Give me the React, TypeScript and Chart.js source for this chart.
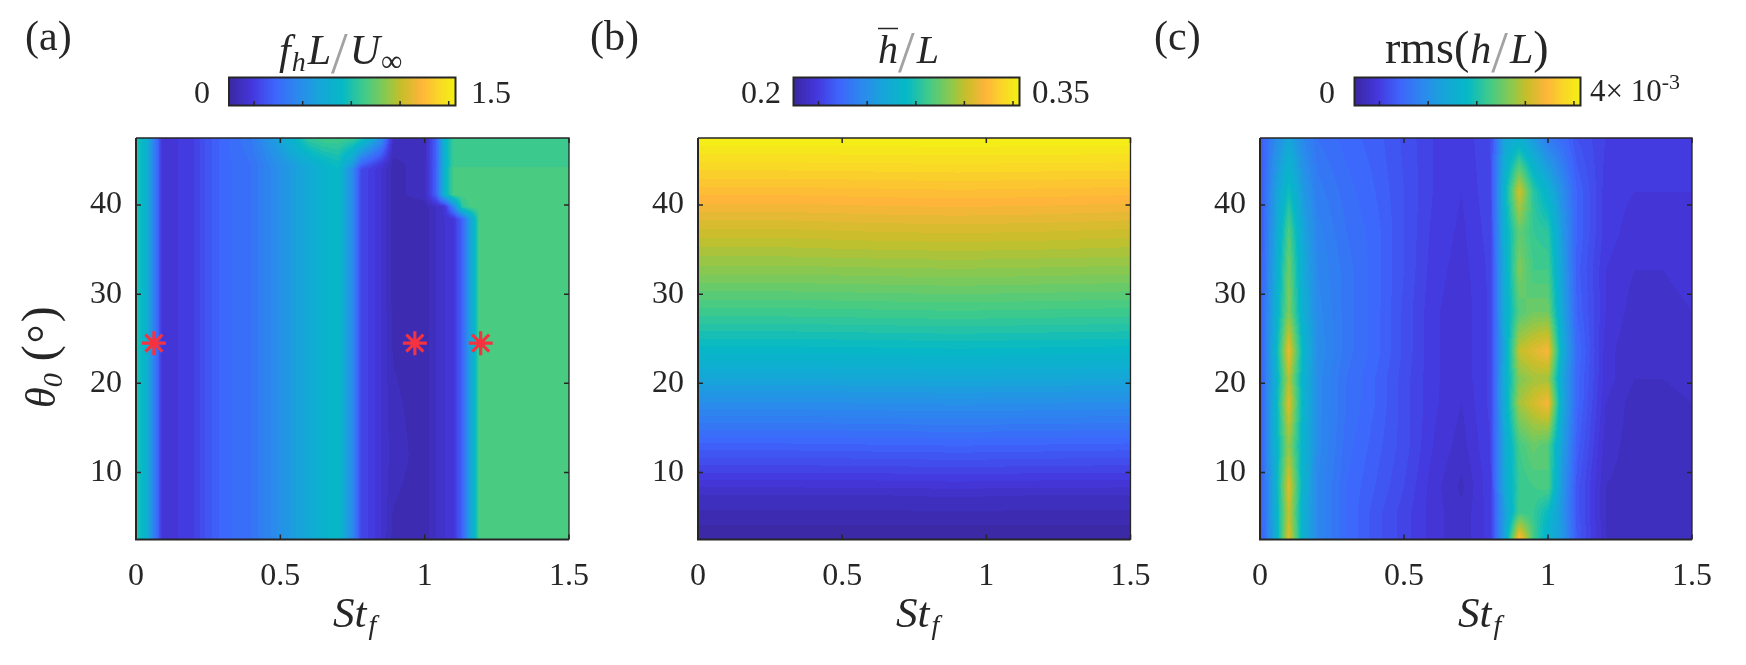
import { useEffect, useRef } from "react";
import { Chart, registerables } from "chart.js";

Chart.register(...registerables);

const SERIF = '"Liberation Serif", serif';
const INK = "#262626";

// St_f ticks and theta ticks shared by the panels
const stTicks = [0, 0.5, 1, 1.5];
const thetaTicks = [10, 20, 30, 40];

// (a) f_h L / U_inf
const stA = [0, 0.03, 0.06, 0.09, 0.12, 0.2, 0.25, 0.3, 0.4, 0.5, 0.6, 0.65, 0.7, 0.75, 0.78, 0.85, 0.89, 1, 1.04, 1.07, 1.1, 1.13, 1.16, 1.19, 1.3, 1.5];
const thetaA = [2.5, 12, 22, 30, 38.4, 39.8, 41.2, 44, 44.5, 47.5];
const valuesA = [
  [0.84, 0.72, 0.45, 0.15, 0.135, 0.18, 0.255, 0.315, 0.36, 0.495, 0.63, 0.705, 0.75, 0.45, 0.21, 0.12, 0.05, 0.045, 0.09, 0.12, 0.135, 0.3, 0.6, 0.915, 0.915, 0.915],
  [0.84, 0.72, 0.45, 0.15, 0.135, 0.18, 0.255, 0.315, 0.36, 0.495, 0.63, 0.705, 0.75, 0.45, 0.21, 0.12, 0.075, 0.045, 0.09, 0.12, 0.135, 0.3, 0.6, 0.915, 0.915, 0.915],
  [0.84, 0.72, 0.45, 0.15, 0.135, 0.18, 0.255, 0.315, 0.36, 0.495, 0.63, 0.705, 0.75, 0.45, 0.21, 0.12, 0.06, 0.045, 0.09, 0.12, 0.135, 0.3, 0.6, 0.915, 0.915, 0.915],
  [0.84, 0.72, 0.45, 0.15, 0.135, 0.18, 0.255, 0.315, 0.36, 0.495, 0.63, 0.705, 0.75, 0.45, 0.21, 0.12, 0.05, 0.045, 0.09, 0.12, 0.135, 0.3, 0.6, 0.915, 0.915, 0.915],
  [0.84, 0.72, 0.45, 0.15, 0.135, 0.18, 0.255, 0.315, 0.36, 0.495, 0.63, 0.705, 0.75, 0.45, 0.21, 0.12, 0.05, 0.045, 0.09, 0.12, 0.135, 0.3, 0.6, 0.915, 0.915, 0.915],
  [0.84, 0.72, 0.45, 0.15, 0.135, 0.18, 0.255, 0.315, 0.36, 0.495, 0.63, 0.705, 0.75, 0.45, 0.21, 0.12, 0.05, 0.045, 0.09, 0.135, 0.45, 0.85, 0.915, 0.915, 0.915, 0.915],
  [0.84, 0.72, 0.45, 0.15, 0.135, 0.18, 0.255, 0.315, 0.36, 0.495, 0.63, 0.705, 0.75, 0.45, 0.21, 0.12, 0.05, 0.075, 0.3, 0.72, 0.915, 0.915, 0.915, 0.915, 0.915, 0.915],
  [0.84, 0.72, 0.45, 0.15, 0.135, 0.18, 0.255, 0.315, 0.36, 0.495, 0.63, 0.705, 0.75, 0.45, 0.21, 0.12, 0.05, 0.075, 0.3, 0.72, 0.915, 0.915, 0.915, 0.915, 0.915, 0.915],
  [0.84, 0.72, 0.45, 0.15, 0.135, 0.18, 0.255, 0.315, 0.36, 0.5, 0.64, 0.72, 0.76, 0.55, 0.3, 0.14, 0.05, 0.075, 0.3, 0.7, 0.885, 0.885, 0.885, 0.885, 0.885, 0.885],
  [0.84, 0.72, 0.45, 0.15, 0.135, 0.18, 0.255, 0.315, 0.39, 0.6, 0.87, 0.9, 0.9, 0.88, 0.82, 0.5, 0.09, 0.06, 0.3, 0.72, 0.885, 0.885, 0.885, 0.885, 0.885, 0.885],
];
const starSt = [0.062, 0.966, 1.194];
const starTheta = [24.5, 24.5, 24.5];

// (b) mean h / L
const stB = [0, 0.3, 0.6, 0.9, 1.2, 1.5];
const thetaB = [2.5, 7.5, 12.5, 17.5, 22.5, 27.5, 32.5, 37.5, 42.5, 47.5];
const valuesB = [
  [0.2, 0.2, 0.2, 0.2, 0.2, 0.2],
  [0.209, 0.209, 0.209, 0.2095, 0.209, 0.209],
  [0.227, 0.227, 0.2275, 0.228, 0.2275, 0.227],
  [0.2465, 0.2465, 0.247, 0.2475, 0.247, 0.2465],
  [0.269, 0.269, 0.2695, 0.27, 0.2695, 0.269],
  [0.287, 0.287, 0.2875, 0.288, 0.2875, 0.287],
  [0.303, 0.303, 0.3035, 0.304, 0.3035, 0.303],
  [0.3175, 0.3175, 0.3185, 0.319, 0.3185, 0.3175],
  [0.3335, 0.3335, 0.334, 0.3345, 0.334, 0.3335],
  [0.35, 0.35, 0.35, 0.35, 0.35, 0.35],
];

// (c) rms(h / L), in units of 1e-3
const stC = [0, 0.05, 0.1, 0.15, 0.2, 0.3, 0.4, 0.5, 0.6, 0.7, 0.8, 0.85, 0.9, 0.95, 1, 1.05, 1.1, 1.2, 1.3, 1.4, 1.5];
const thetaC = [2.5, 5.5, 8.5, 13, 17.8, 20.5, 23.6, 28, 32.7, 37, 41.5, 47.5];
const valuesC = [
  [0.64, 1.6, 3.2, 1.8, 1.2, 0.88, 0.68, 0.52, 0.36, 0.26, 0.44, 1.6, 3.52, 2.4, 1.8, 1.44, 0.72, 0.24, 0.2, 0.2, 0.24],
  [0.64, 1.68, 3.04, 1.8, 1.2, 0.88, 0.68, 0.52, 0.36, 0.26, 0.44, 1.52, 2.4, 2.32, 2.0, 1.36, 0.68, 0.24, 0.2, 0.2, 0.24],
  [0.64, 1.68, 3.2, 1.84, 1.2, 0.88, 0.72, 0.56, 0.36, 0.22, 0.46, 1.68, 2.32, 2.4, 2.48, 1.4, 0.68, 0.24, 0.2, 0.2, 0.24],
  [0.68, 1.76, 2.8, 1.84, 1.24, 0.92, 0.76, 0.6, 0.4, 0.28, 0.48, 1.68, 2.4, 2.6, 2.48, 1.52, 0.76, 0.28, 0.2, 0.2, 0.24],
  [0.68, 1.76, 3.2, 1.88, 1.24, 0.96, 0.8, 0.6, 0.42, 0.32, 0.5, 1.76, 2.88, 3.12, 3.36, 1.68, 0.84, 0.32, 0.2, 0.2, 0.24],
  [0.68, 1.68, 2.96, 1.84, 1.24, 0.96, 0.8, 0.6, 0.42, 0.34, 0.5, 1.76, 2.72, 2.88, 2.88, 1.6, 0.84, 0.36, 0.24, 0.24, 0.28],
  [0.68, 1.76, 3.28, 1.92, 1.28, 1, 0.84, 0.62, 0.42, 0.34, 0.5, 1.68, 3.04, 3.2, 3.36, 1.76, 0.88, 0.36, 0.24, 0.24, 0.28],
  [0.68, 1.68, 2.72, 1.76, 1.24, 1, 0.84, 0.62, 0.42, 0.34, 0.5, 1.76, 2.48, 2.64, 2.64, 1.6, 0.8, 0.4, 0.28, 0.28, 0.32],
  [0.64, 1.6, 2.64, 1.68, 1.2, 1, 0.84, 0.64, 0.44, 0.36, 0.5, 1.76, 2.72, 2.4, 2.4, 1.52, 0.76, 0.4, 0.32, 0.32, 0.36],
  [0.64, 1.52, 2.48, 1.6, 1.16, 0.96, 0.84, 0.64, 0.46, 0.38, 0.52, 1.84, 2.56, 2.32, 2.24, 1.44, 0.8, 0.44, 0.36, 0.36, 0.36],
  [0.64, 1.44, 2.08, 1.44, 1.08, 0.92, 0.8, 0.64, 0.48, 0.4, 0.54, 1.92, 3.12, 2.24, 1.84, 1.28, 0.8, 0.44, 0.4, 0.4, 0.4],
  [0.68, 1.2, 1.6, 1.2, 0.96, 0.84, 0.76, 0.62, 0.48, 0.42, 0.56, 1.6, 1.76, 1.44, 1.04, 0.88, 0.64, 0.48, 0.44, 0.48, 0.48],
];

// colour bar ranges and their tick marks
const rangeA = [0, 1.5];
const rangeB = [0.2, 0.35];
const rangeC = [0, 4];
const barTicksA = [0.166, 0.488, 0.81, 1.133, 1.455];
const barTicksB = [0.2166, 0.2489, 0.2812, 0.3134, 0.3457];
const barTicksC = [0.442, 1.304, 2.164, 3.024, 3.884];

// colormap
const rampStops: [number, number, number, number][] = [
  [0, 58, 40, 160],
  [0.1, 68, 54, 220],
  [0.2, 62, 100, 252],
  [0.3, 44, 136, 238],
  [0.4, 22, 166, 216],
  [0.5, 5, 185, 198],
  [0.6, 66, 203, 136],
  [0.7, 144, 200, 74],
  [0.76, 198, 190, 42],
  [0.85, 254, 181, 58],
  [0.93, 249, 216, 38],
  [1, 244, 241, 20],
];

function ramp(u: number) {
  const t = Math.min(1, Math.max(0, u));
  let i = 0;
  while (i < rampStops.length - 2 && t > rampStops[i + 1][0]) i++;
  const a = rampStops[i];
  const b = rampStops[i + 1];
  const f = (t - a[0]) / (b[0] - a[0]);
  return [a[1] + (b[1] - a[1]) * f, a[2] + (b[2] - a[2]) * f, a[3] + (b[3] - a[3]) * f];
}

function locate(axis: number[], v: number) {
  let i = 0;
  while (i < axis.length - 2 && v > axis[i + 1]) i++;
  const f = (v - axis[i]) / (axis[i + 1] - axis[i]);
  return [i, Math.min(1, Math.max(0, f))];
}

// contourf look: bilinear over the grid, then snapped to bands
function heatmapPlugin(xs: number[], ys: number[], zs: number[][], range: number[]) {
  const LEVELS = 50;
  return {
    id: "heatmap",
    beforeDatasetsDraw(chart: any) {
      const { ctx, chartArea, scales } = chart;
      const w = Math.ceil(chartArea.right - chartArea.left);
      const h = Math.ceil(chartArea.bottom - chartArea.top);
      const off = document.createElement("canvas");
      off.width = w;
      off.height = h;
      const octx = off.getContext("2d")!;
      const img = octx.createImageData(w, h);
      for (let py = 0; py < h; py++) {
        const [j, fy] = locate(ys, scales.y.getValueForPixel(chartArea.top + py + 0.5));
        for (let px = 0; px < w; px++) {
          const [i, fx] = locate(xs, scales.x.getValueForPixel(chartArea.left + px + 0.5));
          const low = zs[j][i] + (zs[j][i + 1] - zs[j][i]) * fx;
          const high = zs[j + 1][i] + (zs[j + 1][i + 1] - zs[j + 1][i]) * fx;
          const u = (low + (high - low) * fy - range[0]) / (range[1] - range[0]);
          const band = (Math.floor(u * LEVELS) + 0.5) / LEVELS;
          const c = ramp(band);
          const k = (py * w + px) * 4;
          img.data[k] = c[0];
          img.data[k + 1] = c[1];
          img.data[k + 2] = c[2];
          img.data[k + 3] = 255;
        }
      }
      octx.putImageData(img, 0, 0);
      ctx.drawImage(off, chartArea.left, chartArea.top, w, h);
    },
  };
}

// box and inward ticks on all four sides
const framePlugin = {
  id: "frame",
  afterDatasetsDraw(chart: any) {
    const { ctx, chartArea: a, scales } = chart;
    const TICK = 5;
    ctx.save();
    ctx.strokeStyle = INK;
    ctx.lineWidth = 1.5;
    ctx.beginPath();
    stTicks.forEach((v) => {
      const x = scales.x.getPixelForValue(v);
      ctx.moveTo(x, a.bottom);
      ctx.lineTo(x, a.bottom - TICK);
      ctx.moveTo(x, a.top);
      ctx.lineTo(x, a.top + TICK);
    });
    thetaTicks.forEach((v) => {
      const y = scales.y.getPixelForValue(v);
      ctx.moveTo(a.left, y);
      ctx.lineTo(a.left + TICK, y);
      ctx.moveTo(a.right, y);
      ctx.lineTo(a.right - TICK, y);
    });
    ctx.stroke();
    ctx.lineWidth = 1.3;
    ctx.beginPath();
    ctx.moveTo(a.left, a.top);
    ctx.lineTo(a.right, a.top);
    ctx.lineTo(a.right, a.bottom);
    ctx.stroke();
    ctx.lineWidth = 2;
    ctx.beginPath();
    ctx.moveTo(a.left, a.top);
    ctx.lineTo(a.left, a.bottom);
    ctx.lineTo(a.right, a.bottom);
    ctx.stroke();
    ctx.restore();
  },
};

type Run = { text: string; size: number; italic?: boolean; dy?: number; gap?: number; color?: string; bar?: boolean };
type Label = { runs: Run[]; x: number; y: number; rotate?: boolean };

function drawRuns(ctx: CanvasRenderingContext2D, label: Label) {
  ctx.save();
  ctx.translate(label.x, label.y);
  if (label.rotate) ctx.rotate(-Math.PI / 2);
  ctx.textBaseline = "alphabetic";
  ctx.textAlign = "left";
  let x = 0;
  label.runs.forEach((r) => {
    ctx.font = `${r.italic ? "italic " : ""}${r.size}px ${SERIF}`;
    ctx.fillStyle = r.color || INK;
    x += r.gap || 0;
    ctx.fillText(r.text, x, r.dy || 0);
    const adv = ctx.measureText(r.text).width;
    if (r.bar) {
      ctx.strokeStyle = INK;
      ctx.lineWidth = 1.5;
      ctx.beginPath();
      ctx.moveTo(x, -34.5);
      ctx.lineTo(x + adv, -34.5);
      ctx.stroke();
    }
    x += adv;
  });
  ctx.restore();
}

function labelsPlugin(labels: Label[]) {
  return {
    id: "labels",
    afterDraw(chart: any) {
      labels.forEach((l) => drawRuns(chart.ctx, l));
    },
  };
}

const slash: Run = { text: "/", size: 60, dy: 9, color: "#a2a2a2", gap: 0 };
const stLabel = (x: number): Label => ({
  x,
  y: 627,
  runs: [
    { text: "St", size: 43, italic: true },
    { text: "f", size: 28, italic: true, dy: 7, gap: 2 },
  ],
});

const labelsA: Label[] = [
  { x: 25, y: 50, runs: [{ text: "(a)", size: 42 }] },
  {
    x: 279,
    y: 64,
    runs: [
      { text: "f", size: 42, italic: true },
      { text: "h", size: 28, italic: true, dy: 7, gap: 1 },
      { text: "L", size: 42, italic: true, gap: 2 },
      slash,
      { text: "U", size: 42, italic: true, gap: 2 },
      { text: "∞", size: 30, dy: 7, gap: 1 },
    ],
  },
  { x: 194, y: 103, runs: [{ text: "0", size: 32 }] },
  { x: 471, y: 103, runs: [{ text: "1.5", size: 32 }] },
  stLabel(333),
  {
    x: 55,
    y: 408,
    rotate: true,
    runs: [
      { text: "θ", size: 42, italic: true },
      { text: "0", size: 28, italic: true, dy: 7 },
      { text: "(", size: 48, gap: 12 },
      { text: "°", size: 48, dy: 6, gap: 2 },
      { text: ")", size: 48, gap: 2 },
    ],
  },
];
const labelsB: Label[] = [
  { x: 590, y: 50, runs: [{ text: "(b)", size: 42 }] },
  {
    x: 878,
    y: 63,
    runs: [
      { text: "h", size: 40, italic: true, bar: true },
      slash,
      { text: "L", size: 40, italic: true, gap: 2 },
    ],
  },
  { x: 741, y: 103, runs: [{ text: "0.2", size: 32 }] },
  { x: 1032, y: 103, runs: [{ text: "0.35", size: 33 }] },
  stLabel(896),
];
const labelsC: Label[] = [
  { x: 1154, y: 50, runs: [{ text: "(c)", size: 42 }] },
  {
    x: 1385,
    y: 63,
    runs: [
      { text: "rms(", size: 46 },
      { text: "h", size: 42, italic: true, gap: 1 },
      slash,
      { text: "L", size: 42, italic: true, gap: 2 },
      { text: ")", size: 46 },
    ],
  },
  { x: 1319, y: 103, runs: [{ text: "0", size: 32 }] },
  {
    x: 1590,
    y: 101,
    runs: [
      { text: "4× 10", size: 31 },
      { text: "-3", size: 22, dy: -12 },
    ],
  },
  stLabel(1458),
];

type Box = { left: number; right: number; top: number; bottom: number };

function Panel(props: { box: Box; xs: number[]; ys: number[]; zs: number[][]; range: number[]; labels: Label[]; stars?: boolean }) {
  const ref = useRef<HTMLCanvasElement>(null);

  useEffect(() => {
    if (!ref.current) return;
    const { box, xs, ys, zs, range, labels, stars } = props;
    const datasets = [
      {
        data: stars ? starSt.map((x, i) => ({ x, y: starTheta[i] })) : [],
        pointStyle: "star",
        pointRadius: 12,
        pointBorderWidth: 3.2,
        pointBorderColor: "#f5323f",
        pointBackgroundColor: "#f5323f",
        showLine: false,
      },
    ];
    const chart = new Chart(ref.current, {
      type: "scatter",
      data: { datasets },
      options: {
        animation: false,
        responsive: false,
        devicePixelRatio: 1,
        layout: { padding: { left: 0, top: box.top, right: 1746 - box.right, bottom: 0 } },
        plugins: { legend: { display: false }, tooltip: { enabled: false } },
        scales: {
          x: {
            type: "linear",
            min: 0,
            max: 1.5,
            grid: { display: false, drawTicks: false },
            border: { display: false },
            afterBuildTicks: (s: any) => {
              s.ticks = stTicks.map((value) => ({ value }));
            },
            afterFit: (s: any) => {
              s.height = 665 - box.bottom;
            },
            ticks: {
              autoSkip: false,
              maxRotation: 0,
              minRotation: 0,
              padding: 18,
              color: INK,
              font: { family: SERIF, size: 32 },
              callback: (v: any) => String(v),
            },
          },
          y: {
            type: "linear",
            min: 2.5,
            max: 47.5,
            grid: { display: false, drawTicks: false },
            border: { display: false },
            afterBuildTicks: (s: any) => {
              s.ticks = thetaTicks.map((value) => ({ value }));
            },
            afterFit: (s: any) => {
              s.width = box.left;
            },
            ticks: {
              autoSkip: false,
              padding: 14,
              color: INK,
              font: { family: SERIF, size: 32 },
              callback: (v: any) => String(v),
            },
          },
        },
      } as any,
      plugins: [heatmapPlugin(xs, ys, zs, range), framePlugin, labelsPlugin(labels)],
    });
    return () => {
      chart.destroy();
    };
  }, []);

  return <canvas ref={ref} width={1746} height={665} style={{ position: "absolute", left: 0, top: 0 }} />;
}

function ColorBar(props: { box: Box; range: number[]; marks: number[] }) {
  const ref = useRef<HTMLCanvasElement>(null);

  useEffect(() => {
    if (!ref.current) return;
    const { box, range, marks } = props;
    const barPlugin = {
      id: "bar",
      beforeDatasetsDraw(chart: any) {
        const { ctx, chartArea: a, scales } = chart;
        for (let px = Math.floor(a.left); px < a.right; px++) {
          const u = (scales.x.getValueForPixel(px + 0.5) - range[0]) / (range[1] - range[0]);
          const c = ramp(u);
          ctx.fillStyle = `rgb(${c[0]},${c[1]},${c[2]})`;
          ctx.fillRect(px, a.top, 1, a.bottom - a.top);
        }
        ctx.strokeStyle = INK;
        ctx.lineWidth = 1.5;
        ctx.beginPath();
        marks.forEach((m) => {
          const x = scales.x.getPixelForValue(m);
          ctx.moveTo(x, a.bottom);
          ctx.lineTo(x, a.bottom - 4.5);
        });
        ctx.stroke();
        ctx.lineWidth = 2;
        ctx.strokeRect(a.left, a.top, a.right - a.left, a.bottom - a.top);
      },
    };
    const chart = new Chart(ref.current, {
      type: "scatter",
      data: { datasets: [{ data: [] }] },
      options: {
        animation: false,
        responsive: false,
        devicePixelRatio: 1,
        layout: { padding: { left: box.left, top: box.top, right: 1746 - box.right, bottom: 665 - box.bottom } },
        plugins: { legend: { display: false }, tooltip: { enabled: false } },
        scales: {
          x: { type: "linear", min: range[0], max: range[1], display: false },
          y: { type: "linear", min: 0, max: 1, display: false },
        },
      } as any,
      plugins: [barPlugin],
    });
    return () => {
      chart.destroy();
    };
  }, []);

  return <canvas ref={ref} width={1746} height={665} style={{ position: "absolute", left: 0, top: 0 }} />;
}

export default function App() {
  useEffect(() => {
    document.body.style.margin = "0";
  }, []);

  return (
    <div style={{ position: "relative", width: 1746, height: 665, background: "#fff", overflow: "hidden" }}>
      <Panel box={{ left: 136, right: 569, top: 138, bottom: 539.5 }} xs={stA} ys={thetaA} zs={valuesA} range={rangeA} labels={labelsA} stars />
      <Panel box={{ left: 698, right: 1130.5, top: 138, bottom: 539.5 }} xs={stB} ys={thetaB} zs={valuesB} range={rangeB} labels={labelsB} />
      <Panel box={{ left: 1260, right: 1692, top: 138, bottom: 539.5 }} xs={stC} ys={thetaC} zs={valuesC} range={rangeC} labels={labelsC} />
      <ColorBar box={{ left: 229, right: 455.5, top: 77.5, bottom: 105.5 }} range={rangeA} marks={barTicksA} />
      <ColorBar box={{ left: 793.5, right: 1019.5, top: 77.5, bottom: 105.5 }} range={rangeB} marks={barTicksB} />
      <ColorBar box={{ left: 1354.5, right: 1580.5, top: 77.5, bottom: 105.5 }} range={rangeC} marks={barTicksC} />
    </div>
  );
}
